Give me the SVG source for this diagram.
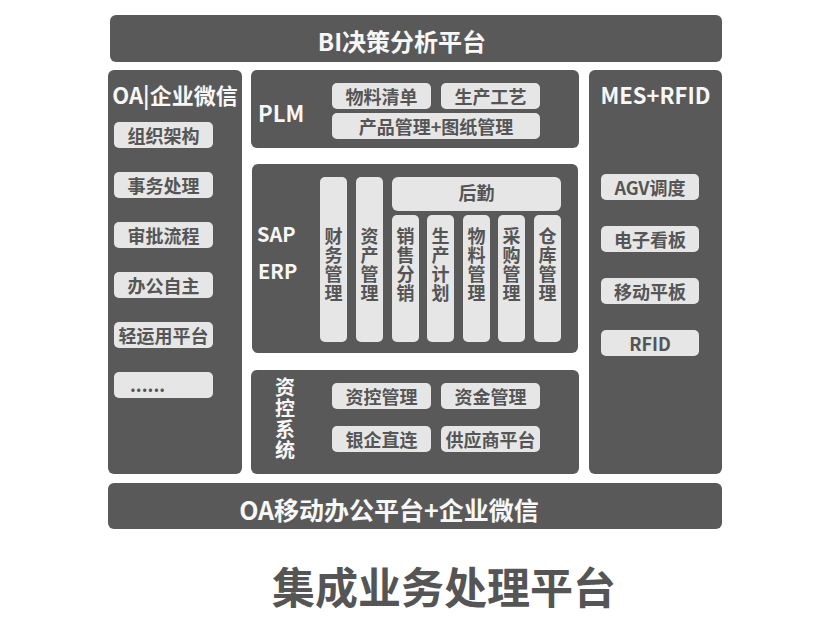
<svg xmlns="http://www.w3.org/2000/svg" width="840" height="629" viewBox="0 0 840 629">
<style>
text{font-family:"Noto Sans CJK SC","Noto Sans",sans-serif;font-weight:bold}
.box{fill:#5a5959}
.pill{fill:#e6e6e6}
.pt{font-size:18px;fill:#555;text-anchor:middle}
.wt{fill:#f7f7f7}
.vt{font-size:18px;fill:#555;writing-mode:vertical-rl;letter-spacing:1px}
.mid{text-anchor:middle}
</style>
<rect width="840" height="629" fill="#ffffff"/>
<g id="bi">
<rect class="box" x="110" y="15" width="612" height="47" rx="6"/>
<text class="wt mid" x="402" y="51" font-size="24">BI决策分析平台</text>
</g>
<g id="oa">
<rect class="box" x="108" y="70" width="134" height="404" rx="6"/>
<text class="wt mid" x="175" y="104" font-size="22">OA|企业微信</text>
<rect class="pill" x="114" y="122" width="99" height="26" rx="5"/><text class="pt" x="163.5" y="143">组织架构</text>
<rect class="pill" x="114" y="172" width="99" height="26" rx="5"/><text class="pt" x="163.5" y="193">事务处理</text>
<rect class="pill" x="114" y="222" width="99" height="26" rx="5"/><text class="pt" x="163.5" y="243">审批流程</text>
<rect class="pill" x="114" y="272" width="99" height="26" rx="5"/><text class="pt" x="163.5" y="293">办公自主</text>
<rect class="pill" x="114" y="322" width="99" height="26" rx="5"/><text class="pt" x="163.5" y="343">轻运用平台</text>
<rect class="pill" x="114" y="372" width="99" height="26" rx="5"/><text class="pt" x="130" y="392" style="text-anchor:start">......</text>
</g>
<g id="plm">
<rect class="box" x="251" y="70" width="328" height="78" rx="6"/>
<text class="wt" x="258" y="122" font-size="22">PLM</text>
<rect class="pill" x="332" y="83" width="99" height="26" rx="5"/><text class="pt" x="381.5" y="104">物料清单</text>
<rect class="pill" x="441" y="83" width="99" height="26" rx="5"/><text class="pt" x="490.5" y="104">生产工艺</text>
<rect class="pill" x="332" y="113" width="208" height="26" rx="5"/><text class="pt" x="436" y="134">产品管理+图纸管理</text>
</g>
<g id="erp">
<rect class="box" x="252" y="164" width="326" height="189" rx="6"/>
<text class="wt" x="257" y="242" font-size="20">SAP</text>
<text class="wt" x="258" y="279" font-size="20">ERP</text>
<rect class="pill" x="320" y="177" width="27" height="165" rx="5"/>
<text class="vt" x="333.5" y="227">财务管理</text>
<rect class="pill" x="356" y="177" width="27" height="165" rx="5"/>
<text class="vt" x="369.5" y="227">资产管理</text>
<rect class="pill" x="392" y="177" width="169" height="34" rx="6"/>
<text class="pt" x="476.5" y="200">后勤</text>
<rect class="pill" x="392" y="215" width="27" height="127" rx="5"/>
<text class="vt" x="405.5" y="227">销售分销</text>
<rect class="pill" x="427" y="215" width="27" height="127" rx="5"/>
<text class="vt" x="440.5" y="227">生产计划</text>
<rect class="pill" x="463" y="215" width="27" height="127" rx="5"/>
<text class="vt" x="476.5" y="227">物料管理</text>
<rect class="pill" x="498" y="215" width="27" height="127" rx="5"/>
<text class="vt" x="511.5" y="227">采购管理</text>
<rect class="pill" x="534" y="215" width="27" height="127" rx="5"/>
<text class="vt" x="547.5" y="227">仓库管理</text>
</g>
<g id="zikong">
<rect class="box" x="251" y="370" width="328" height="104" rx="6"/>
<text class="wt" x="285" y="377" font-size="20" style="writing-mode:vertical-rl;letter-spacing:1px">资控系统</text>
<rect class="pill" x="332" y="383" width="99" height="26" rx="5"/><text class="pt" x="381.5" y="404">资控管理</text>
<rect class="pill" x="441" y="383" width="99" height="26" rx="5"/><text class="pt" x="490.5" y="404">资金管理</text>
<rect class="pill" x="332" y="426" width="99" height="26" rx="5"/><text class="pt" x="381.5" y="447">银企直连</text>
<rect class="pill" x="441" y="426" width="99" height="26" rx="5"/><text class="pt" x="490.5" y="447">供应商平台</text>
</g>
<g id="mes">
<rect class="box" x="589" y="70" width="133" height="404" rx="6"/>
<text class="wt mid" x="655.5" y="104" font-size="22">MES+RFID</text>
<rect class="pill" x="601" y="174" width="98" height="26" rx="5"/><text class="pt" x="650" y="195">AGV调度</text>
<rect class="pill" x="601" y="226" width="98" height="26" rx="5"/><text class="pt" x="650" y="247">电子看板</text>
<rect class="pill" x="601" y="278" width="98" height="26" rx="5"/><text class="pt" x="650" y="299">移动平板</text>
<rect class="pill" x="601" y="330" width="98" height="26" rx="5"/><text class="pt" x="650" y="351">RFID</text>
</g>
<g id="oa-mobile">
<rect class="box" x="108" y="483" width="614" height="46" rx="6"/>
<text class="wt mid" x="389" y="520" font-size="25">OA移动办公平台+企业微信</text>
</g>
<g id="title">
<text class="mid" x="444" y="604" font-size="43" fill="#555">集成业务处理平台</text>
</g>
<g id="connectors"/>
</svg>
